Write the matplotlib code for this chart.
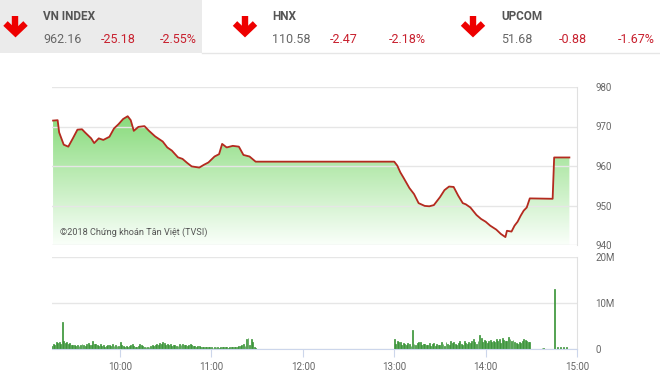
import numpy as np
import matplotlib
matplotlib.use("Agg")
import matplotlib.pyplot as plt
from matplotlib.lines import Line2D
from matplotlib.patches import Rectangle
from matplotlib.colors import LinearSegmentedColormap

# ---------------- data ----------------
indices = ["VN INDEX", "HNX", "UPCOM"]
index_values = ["962.16", "110.58", "51.68"]
index_changes = ["-25.18", "-2.47", "-0.88"]
index_pct = ["-2.55%", "-2.18%", "-1.67%"]

price_times = ["9:16", "9:19", "9:20", "9:23", "9:26", "9:29", "9:32", "9:35", "9:37",
               "9:41", "9:43", "9:46", "9:49", "9:53", "9:56", "9:59", "10:02", "10:05",
               "10:07", "10:09", "10:12", "10:16", "10:19", "10:23", "10:28", "10:31",
               "10:34", "10:38", "10:41", "10:44", "10:47", "10:52", "10:55", "10:58",
               "11:02", "11:05", "11:07", "11:10", "11:14", "11:18", "11:21", "11:25",
               "11:29", "13:00", "13:02", "13:04", "13:06", "13:10", "13:13", "13:16",
               "13:20", "13:23", "13:26", "13:30", "13:33", "13:36", "13:39", "13:42",
               "13:45", "13:47", "13:50", "13:54", "13:57", "14:00", "14:03", "14:07",
               "14:10", "14:13", "14:14", "14:17", "14:19", "14:21", "14:23", "14:25",
               "14:27", "14:29", "14:44", "14:45", "14:55"]
price_values = [971.5, 971.6, 968.5, 965.4, 964.9, 967.0, 969.2, 969.3, 968.5,
                967.0, 965.8, 967.0, 966.6, 967.4, 969.5, 970.6, 971.9, 972.6,
                971.6, 968.9, 969.9, 970.1, 968.9, 967.5, 966.2, 964.7,
                963.9, 962.2, 961.8, 960.8, 959.9, 959.6, 960.3, 960.9,
                962.4, 963.0, 965.6, 964.7, 965.1, 964.9, 962.8, 962.4,
                961.1, 961.1, 960.1, 958.4, 957.1, 954.4, 952.9, 950.6,
                949.9, 949.8, 950.1, 952.1, 953.9, 954.8, 954.7, 952.5,
                950.6, 950.3, 949.5, 947.6, 946.6, 945.9, 944.9, 943.9,
                942.8, 942.0, 943.6, 943.4, 944.9, 945.9, 947.4, 948.7,
                949.5, 951.8, 951.7, 962.16, 962.16]

# volume (millions), one bar per minute
vol_morning_start = "9:15"
vol_morning = [0.8, 1.2, 1.0, 1.5, 1.3, 1.6, 1.2, 5.9, 1.8, 1.4, 1.6, 1.1, 1.3, 1.0, 0.9,
               1.0, 0.8, 0.9, 0.7, 1.0, 1.2, 0.9, 0.8, 1.1, 1.3, 1.0, 0.9, 1.7, 1.1, 1.2,
               1.0, 0.8, 1.1, 0.7, 0.9, 0.6, 0.8, 1.0, 0.9, 0.7, 1.1, 0.8, 0.9, 0.7, 0.8,
               1.5, 0.9, 0.7, 0.6, 0.8, 0.5, 0.7, 0.9, 1.1, 0.8, 0.6, 0.5, 0.7, 1.2, 1.0,
               0.8, 0.6, 0.5, 0.4, 0.6, 0.7, 0.9, 0.8, 1.0, 1.2, 0.9, 1.3, 1.1, 1.6, 1.4,
               1.0, 1.2, 0.9, 1.1, 0.8, 0.9, 1.0, 0.7, 0.8, 1.1, 0.9, 1.2, 1.0, 0.9, 0.8,
               1.0, 1.1, 0.9, 0.8, 0.7, 0.6, 0.8, 0.7, 0.5, 0.6, 0.4, 0.5, 0.6, 0.5, 0.4,
               0.5, 0.3, 0.4, 0.5, 0.4, 0.3, 0.5, 0.4, 0.6, 0.5, 0.4, 0.3, 0.4, 0.5, 0.6,
               0.4, 0.5, 0.6, 0.8, 0.7, 0.9, 1.1, 0.8, 2.3, 2.5, 0.9, 2.2, 1.5, 0.6, 0.3]
vol_afternoon_start = "13:00"
vol_afternoon = [2.3, 1.2, 1.8, 1.5, 1.6, 0.9, 1.4, 1.2, 1.0, 1.3, 1.1, 0.8, 4.3, 1.2, 0.9,
                 1.4, 1.6, 1.5, 1.0, 1.2, 1.1, 0.9, 1.0, 1.3, 0.8, 1.1, 1.4, 0.7, 1.2, 0.9,
                 1.0, 1.6, 1.2, 0.8, 1.5, 1.1, 1.0, 1.9, 1.3, 1.6, 1.2, 0.9, 1.4, 1.7, 1.2,
                 1.0, 1.8, 1.3, 1.2, 1.6, 1.4, 1.9, 2.2, 1.5, 1.1, 1.7, 3.2, 2.4, 1.6, 2.1,
                 1.8, 1.4, 1.7, 2.0, 1.6, 1.9, 1.5, 2.3, 1.8, 2.2, 1.4, 2.5, 2.1, 1.7, 1.9,
                 2.6, 2.2, 1.8, 2.0, 1.6, 1.4, 1.2, 1.5, 1.3, 1.8, 2.2, 2.0, 1.8, 1.6, 1.5]
vol_late_times = ["14:37", "14:38", "14:45", "14:47", "14:49", "14:51", "14:53"]
vol_late = [0.3, 0.2, 13.2, 0.5, 0.4, 0.5, 0.4]

price_ticks = [940, 950, 960, 970, 980]
vol_ticks = [0, 10, 20]
vol_tick_labels = ["0", "10M", "20M"]
time_ticks = ["10:00", "11:00", "12:00", "13:00", "14:00", "15:00"]
watermark = "©2018 Chứng khoán Tân Việt (TVSI)"


def to_h(s):
    h, m = s.split(":")
    return int(h) + int(m) / 60.0


# ---------------- figure ----------------
W, H = 660, 377
fig = plt.figure(figsize=(W / 100, H / 100), dpi=100)
fig.patch.set_facecolor("white")

NARROW = ["Liberation Sans Narrow", "Roboto", "DejaVu Sans"]


def fx(x):
    return x / W


def fy(y):
    return 1 - y / H


# header
fig.patches.append(Rectangle((0, fy(53)), fx(202), 53 / H, transform=fig.transFigure,
                             facecolor="#ebebeb", edgecolor="none", zorder=0))
fig.lines.append(Line2D([fx(202), 1], [fy(53), fy(53)], transform=fig.transFigure,
                        color="#e6e6e6", lw=1))

arrow_cx = [15.5, 245, 473]
name_x = [43, 272, 501]
chg_dx = 58
pct_dx = 117
red = "#c8202e"
for i in range(3):
    cx = arrow_cx[i]
    kw = dict(transform=fig.transFigure, color="#ee0000", lw=4.6, solid_capstyle="butt",
              solid_joinstyle="miter")
    fig.lines.append(Line2D([fx(cx), fx(cx)], [fy(16), fy(32)], **kw))
    fig.lines.append(Line2D([fx(cx - 10), fx(cx), fx(cx + 10)], [fy(23.5), fy(33), fy(23.5)], **kw))
    fig.text(fx(name_x[i]), fy(17), indices[i], fontsize=8.5, fontweight="bold",
             color="#555555", va="center", ha="left", family=NARROW)
    fig.text(fx(name_x[i]), fy(39.5), index_values[i], fontsize=9, color="#666666",
             va="center", ha="left", family=NARROW)
    fig.text(fx(name_x[i] + chg_dx), fy(39.5), index_changes[i], fontsize=9, color=red,
             va="center", ha="left", family=NARROW)
    fig.text(fx(name_x[i] + pct_dx), fy(39.5), index_pct[i], fontsize=9, color=red,
             va="center", ha="left", family=NARROW)

xl = (9.255, 15.0)
grid_c = "#e6e6e6"

# price panel
ax = fig.add_axes([fx(52), fy(245), (577 - 52) / W, (245 - 87) / H])
pt = np.array([to_h(s) for s in price_times])
pv = np.array(price_values)
ax.set_xlim(*xl)
ax.set_ylim(price_ticks[0], price_ticks[-1])
poly = ax.fill_between(pt, pv, price_ticks[0], facecolor="none", edgecolor="none")
cmap = LinearSegmentedColormap.from_list("g", ["#fafffa", "#6fd35f"])
grad = np.linspace(0, 1, 256).reshape(-1, 1)
im = ax.imshow(grad, aspect="auto", cmap=cmap, origin="lower",
               extent=[xl[0], xl[1], price_ticks[0], price_ticks[-1]], zorder=1)
im.set_clip_path(poly.get_paths()[0], transform=ax.transData)
ax.plot(pt, pv, color="#b42a1f", lw=1.3, zorder=3)
ax.set_yticks(price_ticks)
ax.yaxis.tick_right()
ax.tick_params(axis="y", length=0, pad=13, labelsize=7, labelcolor="#666666")
for lab in ax.get_yticklabels():
    lab.set_family(NARROW)
ax.set_xticks([])
ax.grid(axis="y", color=grid_c, lw=1, zorder=0)
for s in ["left", "top", "bottom"]:
    ax.spines[s].set_visible(False)
ax.spines["right"].set_color("#e0e0e0")
ax.set_facecolor("none")
ax.text(0.015, 0.08, watermark, transform=ax.transAxes, fontsize=6.6, color="#555555",
        family=["Roboto", "DejaVu Sans"], va="center", ha="left", zorder=4)

# volume panel
bx = fig.add_axes([fx(52), fy(349.3), (577 - 52) / W, (349.3 - 257.3) / H])
t0 = to_h(vol_morning_start)
vt_m = t0 + np.arange(len(vol_morning)) / 60.0
t1 = to_h(vol_afternoon_start)
vt_a = t1 + np.arange(len(vol_afternoon)) / 60.0
vt_l = np.array([to_h(s) for s in vol_late_times])
vt = np.concatenate([vt_m, vt_a, vt_l])
vv = np.concatenate([vol_morning, vol_afternoon, vol_late])
bx.bar(vt, vv, width=0.6 / 60, color="#6cc35f", edgecolor="#2f8a2f", lw=0.5, zorder=2)
bx.set_xlim(*xl)
bx.set_ylim(vol_ticks[0], vol_ticks[-1])
bx.set_yticks(vol_ticks)
bx.set_yticklabels(vol_tick_labels)
bx.yaxis.tick_right()
bx.tick_params(axis="y", length=0, pad=13, labelsize=7, labelcolor="#666666")
bx.set_xticks([to_h(s) for s in time_ticks])
bx.set_xticklabels(time_ticks)
bx.tick_params(axis="x", length=6, color="#ccd6eb", labelsize=7, labelcolor="#666666", pad=3)
for lab in bx.get_xticklabels() + bx.get_yticklabels():
    lab.set_family(NARROW)
bx.grid(axis="y", color=grid_c, lw=1, zorder=0)
bx.spines["left"].set_visible(False)
bx.spines["top"].set_visible(False)
bx.spines["bottom"].set_color("#ccd6eb")
bx.spines["right"].set_color("#e0e0e0")

fig.savefig("out.png", dpi=100)
